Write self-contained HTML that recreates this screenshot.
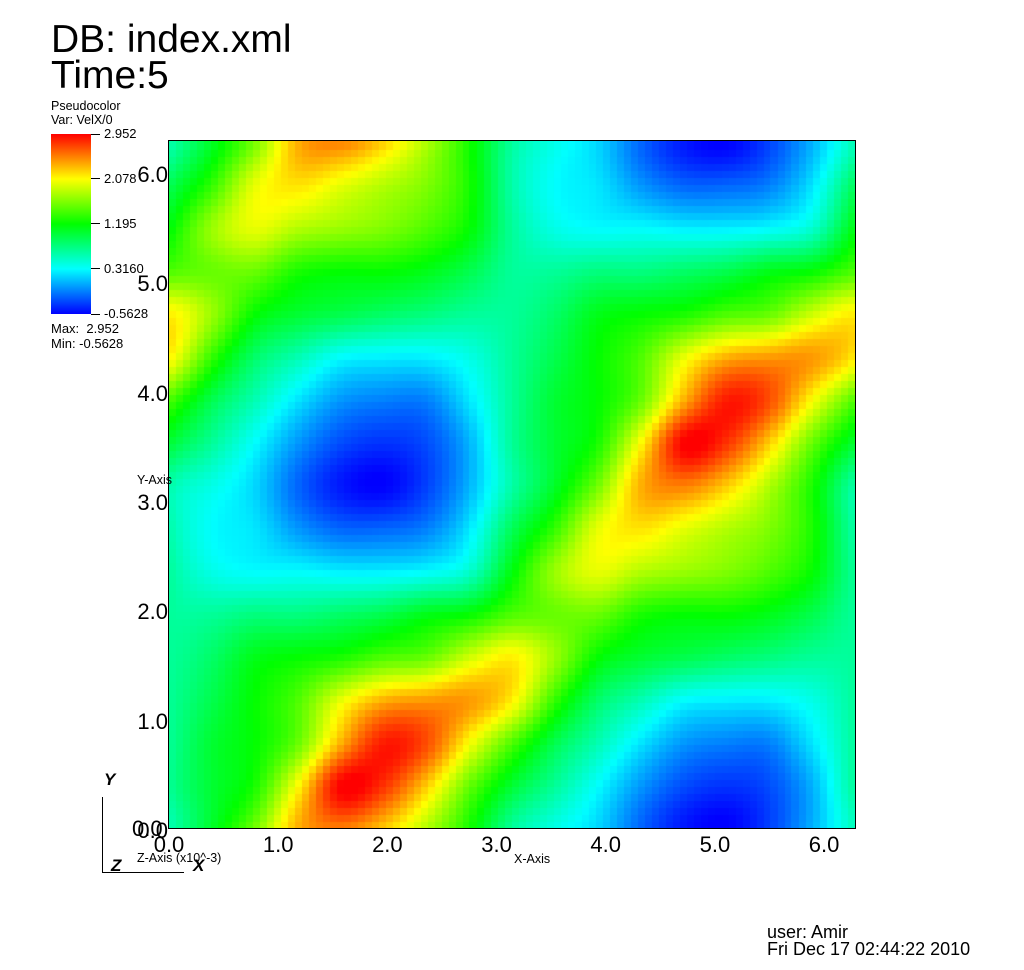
<!DOCTYPE html>
<html><head><meta charset="utf-8">
<style>
body{margin:0;background:#fff;width:1024px;height:970px;position:relative;overflow:hidden;font-family:"Liberation Sans","DejaVu Sans",sans-serif;color:#000}
.t{position:absolute;white-space:nowrap;line-height:1}
</style></head><body>
<div class="t" style="left:51px;top:20px;font-size:39px">DB: index.xml</div>
<div class="t" style="left:51px;top:56px;font-size:39px">Time:5</div>
<div class="t" style="left:51px;top:100px;font-size:12.5px">Pseudocolor</div>
<div class="t" style="left:51px;top:114px;font-size:12.5px">Var: VelX/0</div>
<div style="position:absolute;left:51px;top:134px;width:40px;height:180px;background:linear-gradient(#f00,#ff0 25%,#0f0 50%,#0ff 75%,#00f)"></div>
<div id="cbticks"></div>
<div class="t" style="left:51px;top:322px;font-size:13px">Max:&nbsp; 2.952</div>
<div class="t" style="left:51px;top:337px;font-size:13px">Min: -0.5628</div>
<canvas id="cv" width="686" height="687" style="position:absolute;left:169px;top:141px"></canvas>
<div style="position:absolute;left:168px;top:140px;width:686px;height:687px;border:1px solid #000"></div>
<div id="axes"></div>
<div class="t" style="left:137px;top:474px;font-size:12.5px">Y-Axis</div>
<div class="t" style="left:514px;top:853px;font-size:12.5px">X-Axis</div>
<div class="t" style="left:137px;top:852px;font-size:12.5px">Z-Axis (x10^-3)</div>
<div class="t" style="left:132px;top:818px;font-size:22px">0.0</div>
<div style="position:absolute;left:102px;top:797px;width:1px;height:76px;background:#000"></div>
<div style="position:absolute;left:102px;top:872px;width:82px;height:1px;background:#000"></div>
<div class="t" style="left:104px;top:771px;font-size:17px;font-weight:bold;font-style:italic">Y</div>
<div class="t" style="left:111px;top:857px;font-size:17px;font-weight:bold;font-style:italic">Z</div>
<div class="t" style="left:193px;top:857px;font-size:17px;font-weight:bold;font-style:italic">X</div>
<div class="t" style="left:767px;top:923px;font-size:18px">user: Amir</div>
<div class="t" style="left:767px;top:940px;font-size:18px">Fri Dec 17 02:44:22 2010</div>
<script>
// grid rows from y=0 (bottom) to y=2*pi (top), columns x=0..2*pi, step pi/8
const gridN = 17;
const xTicks = ["0.0","1.0","2.0","3.0","4.0","5.0","6.0"];
const xTickVals = [0,1,2,3,4,5,6];
const yTicks = ["0.0","1.0","2.0","3.0","4.0","5.0","6.0"];
const yTickVals = [0,1,2,3,4,5,6];
const cbLabels = ["2.952","2.078","1.195","0.3160","-0.5628"];
const cbVals = [2.952,2.078,1.195,0.316,-0.5628];
const vMin = -0.5628, vMax = 2.952;
const velX = [
[0.58,1.06,1.59,2.34,2.51,2.25,1.81,1.28,0.67,0.40,0.18,-0.21,-0.48,-0.56,-0.34,0.05,0.58],
[0.67,1.02,1.28,2.07,2.95,2.78,2.25,1.55,1.02,0.67,0.32,-0.04,-0.30,-0.39,-0.30,0.05,0.58],
[0.67,1.02,1.20,1.55,2.34,2.86,2.69,2.07,1.46,0.93,0.58,0.23,-0.04,-0.12,-0.12,0.23,0.58],
[0.67,0.93,1.20,1.46,1.99,2.34,2.42,2.42,2.12,1.37,0.84,0.58,0.32,0.27,0.27,0.40,0.62],
[0.67,0.84,1.11,1.20,1.28,1.46,1.55,1.90,2.12,1.72,1.20,1.02,0.93,0.84,0.76,0.67,0.62],
[0.67,0.67,0.76,0.76,0.84,0.93,1.11,1.20,1.46,1.55,1.55,1.28,1.20,1.20,1.11,0.93,0.67],
[0.67,0.40,0.32,0.32,0.27,0.27,0.32,0.49,1.15,1.72,1.99,1.81,1.72,1.63,1.46,1.20,0.67],
[0.62,0.32,0.23,-0.04,-0.21,-0.21,-0.12,0.23,0.89,1.37,1.99,2.16,1.99,1.81,1.63,1.28,0.67],
[0.62,0.40,0.18,-0.21,-0.48,-0.56,-0.34,0.05,0.62,1.06,1.59,2.34,2.51,2.25,1.81,1.28,0.62],
[1.02,0.67,0.32,-0.04,-0.30,-0.39,-0.30,0.05,0.67,1.02,1.28,2.07,2.95,2.78,2.25,1.55,1.02],
[1.46,0.93,0.58,0.23,-0.04,-0.12,-0.12,0.23,0.67,1.02,1.20,1.55,2.34,2.86,2.69,2.07,1.46],
[2.12,1.37,0.84,0.58,0.32,0.27,0.27,0.40,0.67,0.93,1.20,1.46,1.99,2.34,2.42,2.42,2.12],
[2.12,1.72,1.20,1.02,0.93,0.84,0.76,0.67,0.67,0.84,1.11,1.20,1.28,1.46,1.55,1.90,2.12],
[1.46,1.55,1.55,1.28,1.20,1.20,1.11,0.93,0.67,0.67,0.76,0.76,0.84,0.93,1.11,1.20,1.46],
[1.15,1.72,1.99,1.81,1.72,1.63,1.46,1.20,0.67,0.40,0.32,0.32,0.27,0.27,0.32,0.49,1.15],
[0.89,1.37,1.99,2.16,1.99,1.81,1.63,1.28,0.62,0.32,0.23,-0.04,-0.21,-0.21,-0.12,0.23,0.89],
[0.62,1.06,1.59,2.34,2.51,2.25,1.81,1.28,0.62,0.40,0.18,-0.21,-0.48,-0.56,-0.34,0.05,0.62]
];
const L=169,T=141,W=686,H=687,XMAX=2*Math.PI;
function sx(x){return L+x/XMAX*W;}
function sy(y){return T+H-y/XMAX*H;}
function color(v){
  let t=Math.max(0,Math.min(1,(v-vMin)/(vMax-vMin)))*4;
  const stops=[[0,0,255],[0,255,255],[0,255,0],[255,255,0],[255,0,0]];
  const i=Math.min(3,Math.floor(t)),f=t-i,a=stops[i],b=stops[i+1];
  return `rgb(${Math.round(a[0]+(b[0]-a[0])*f)},${Math.round(a[1]+(b[1]-a[1])*f)},${Math.round(a[2]+(b[2]-a[2])*f)})`;
}
function cr(p0,p1,p2,p3,t){return 0.5*((2*p1)+(-p0+p2)*t+(2*p0-5*p1+4*p2-p3)*t*t+(-p0+3*p1-3*p2+p3)*t*t*t);}
function g(r,c){r=((r%16)+16)%16;c=((c%16)+16)%16;return velX[r][c];}
function sample(gx,gy){
  const c=Math.floor(gx),r=Math.floor(gy),fx=gx-c,fy=gy-r,rows=[];
  for(let k=-1;k<3;k++){rows.push(cr(g(r+k,c-1),g(r+k,c),g(r+k,c+1),g(r+k,c+2),fx));}
  return cr(rows[0],rows[1],rows[2],rows[3],fy);
}
const cv=document.getElementById('cv'),ctx=cv.getContext('2d');
const N=98;
for(let j=0;j<N;j++)for(let i=0;i<N;i++){
  const gx=(i+0.5)/N*(gridN-1),gy=(j+0.5)/N*(gridN-1);
  ctx.fillStyle=color(sample(gx,gy));
  const x0=sx(i/N*XMAX)-L,x1=sx((i+1)/N*XMAX)-L,y0=sy((j+1)/N*XMAX)-T,y1=sy(j/N*XMAX)-T;
  ctx.fillRect(Math.floor(x0),Math.floor(y0),Math.ceil(x1-x0)+1,Math.ceil(y1-y0)+1);
}
const axes=document.getElementById('axes');
xTicks.forEach((s,k)=>{
  const d=document.createElement('div');
  
  
  d.className='t';d.textContent=s;
  d.style.cssText=`left:${sx(xTickVals[k])-17}px;top:834px;font-size:22px;width:34px;text-align:center`;
  axes.appendChild(d);
});
yTicks.forEach((s,k)=>{
  const d=document.createElement('div');
  
  
  d.className='t';d.textContent=s;
  d.style.cssText=`left:120px;width:48px;text-align:right;top:${sy(yTickVals[k])-8}px;font-size:22px`;
  axes.appendChild(d);
});
const cb=document.getElementById('cbticks');
cbLabels.forEach((s,k)=>{
  const y=134+(vMax-cbVals[k])/(vMax-vMin)*180;
  const ln=document.createElement('div');
  
  
  ln.style.cssText=`position:absolute;left:91px;top:${y-0.5}px;width:9px;height:1px;background:#000`;
  cb.appendChild(ln);
  const d=document.createElement('div');
  
  
  d.className='t';d.textContent=s;
  d.style.cssText=`left:104px;top:${y-7}px;font-size:13px`;
  cb.appendChild(d);
});
</script>
</body></html>
